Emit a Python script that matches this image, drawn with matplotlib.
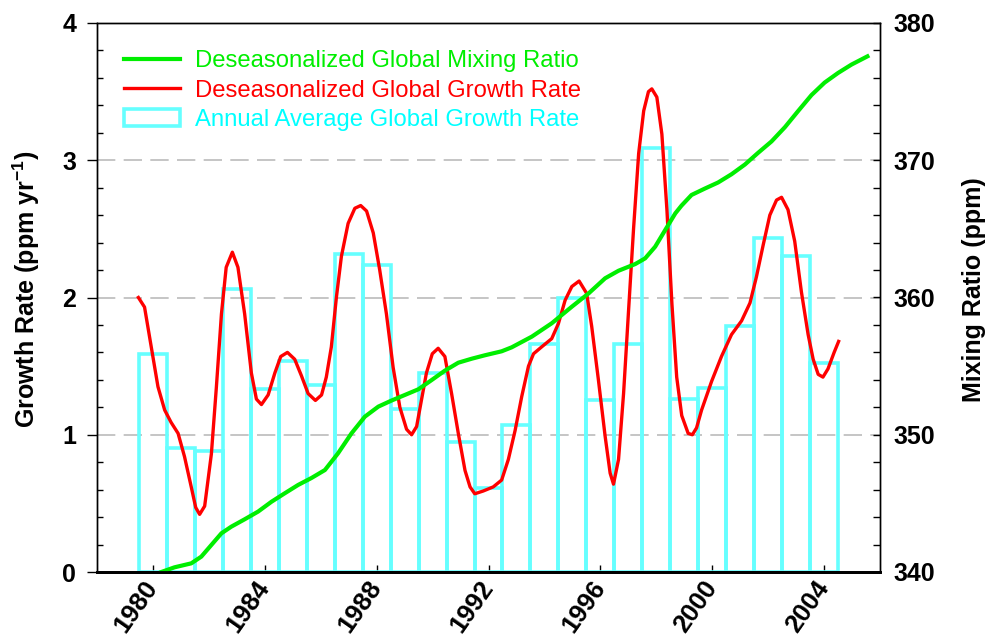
import numpy as np
import matplotlib.pyplot as plt
import matplotlib.transforms as mtransforms
from matplotlib.lines import Line2D
from matplotlib.patches import Patch
from matplotlib.ticker import MultipleLocator

# annual average growth rate (ppm/yr), one bar per year
years = [1980, 1981, 1982, 1983, 1984, 1985, 1986, 1987, 1988, 1989, 1990, 1991, 1992,
         1993, 1994, 1995, 1996, 1997, 1998, 1999, 2000, 2001, 2002, 2003, 2004]
annual_rate = [1.59, 0.90, 0.88, 2.06, 1.33, 1.54, 1.36, 2.32, 2.24, 1.19, 1.45, 0.95, 0.61,
               1.07, 1.66, 2.00, 1.25, 1.66, 3.09, 1.26, 1.34, 1.79, 2.43, 2.30, 1.52]

# deseasonalized growth rate curve
rate_t = [1979.48, 1979.70, 1979.94, 1980.18, 1980.42, 1980.65, 1980.90, 1981.13, 1981.37,
          1981.53, 1981.67, 1981.85, 1982.09, 1982.27, 1982.45, 1982.62, 1982.84, 1983.04,
          1983.28, 1983.52, 1983.70, 1983.88, 1984.12, 1984.36, 1984.57, 1984.81, 1985.07,
          1985.31, 1985.55, 1985.81, 1986.03, 1986.20, 1986.38, 1986.56, 1986.74, 1986.98,
          1987.22, 1987.43, 1987.64, 1987.88, 1988.11, 1988.35, 1988.59, 1988.83, 1989.07,
          1989.25, 1989.43, 1989.60, 1989.78, 1989.99, 1990.20, 1990.44, 1990.68, 1990.92,
          1991.16, 1991.34, 1991.51, 1991.81, 1992.17, 1992.47, 1992.71, 1992.95, 1993.19,
          1993.43, 1993.61, 1993.90, 1994.26, 1994.50, 1994.74, 1994.98, 1995.24, 1995.51,
          1995.69, 1995.93, 1996.17, 1996.35, 1996.47, 1996.65, 1996.83, 1997.01, 1997.19,
          1997.37, 1997.55, 1997.72, 1997.84, 1998.02, 1998.20, 1998.38, 1998.56, 1998.73,
          1998.91, 1999.14, 1999.29, 1999.44, 1999.62, 1999.98, 2000.33, 2000.69, 2001.05,
          2001.35, 2001.58, 2001.82, 2002.06, 2002.30, 2002.48, 2002.71, 2002.95, 2003.19,
          2003.43, 2003.61, 2003.79, 2003.96, 2004.14, 2004.36, 2004.52]
rate_v = [2.00, 1.93, 1.64, 1.35, 1.18, 1.09, 1.01, 0.84, 0.62,
          0.47, 0.42, 0.48, 0.86, 1.35, 1.88, 2.22, 2.33, 2.22,
          1.88, 1.45, 1.26, 1.22, 1.29, 1.45, 1.57, 1.60, 1.55,
          1.43, 1.30, 1.25, 1.29, 1.42, 1.64, 2.00, 2.30, 2.54,
          2.65, 2.67, 2.63, 2.47, 2.20, 1.88, 1.49, 1.20, 1.04,
          1.00, 1.06, 1.25, 1.45, 1.59, 1.63, 1.57, 1.30, 1.01,
          0.74, 0.62, 0.57, 0.59, 0.62, 0.67, 0.82, 1.03, 1.28,
          1.50, 1.59, 1.64, 1.70, 1.81, 1.98, 2.08, 2.12, 2.03,
          1.79, 1.40, 0.99, 0.72, 0.64, 0.82, 1.30, 1.91, 2.51,
          3.05, 3.36, 3.50, 3.52, 3.46, 3.19, 2.64, 1.95, 1.42,
          1.14, 1.01, 1.00, 1.05, 1.18, 1.39, 1.57, 1.73, 1.83,
          1.96, 2.15, 2.38, 2.60, 2.71, 2.73, 2.64, 2.41, 2.04,
          1.73, 1.55, 1.44, 1.42, 1.48, 1.60, 1.68]

# deseasonalized global mixing ratio (ppm)
mix_t = [1980.30, 1980.77, 1981.37, 1981.73, 1982.09, 1982.45, 1982.80, 1983.28, 1983.76,
         1984.24, 1984.71, 1985.19, 1985.67, 1986.15, 1986.62, 1987.10, 1987.58, 1988.06,
         1988.53, 1989.01, 1989.49, 1989.97, 1990.44, 1990.92, 1991.40, 1991.87, 1992.47,
         1992.83, 1993.55, 1994.26, 1994.98, 1995.58, 1996.17, 1996.65, 1997.25, 1997.60,
         1997.96, 1998.32, 1998.68, 1998.90, 1999.26, 1999.74, 2000.21, 2000.69, 2001.17,
         2001.64, 2002.12, 2002.60, 2003.07, 2003.55, 2004.02, 2004.50, 2004.98, 2005.55]
mix_v = [340.00, 340.34, 340.63, 341.12, 341.97, 342.82, 343.30, 343.84, 344.40,
         345.12, 345.73, 346.34, 346.85, 347.43, 348.65, 350.10, 351.32, 352.05,
         352.49, 352.90, 353.31, 353.99, 354.67, 355.25, 355.54, 355.79, 356.08,
         356.37, 357.15, 358.12, 359.33, 360.30, 361.40, 361.95, 362.44, 362.85,
         363.70, 364.92, 366.13, 366.69, 367.47, 367.94, 368.38, 368.98, 369.69,
         370.54, 371.37, 372.41, 373.58, 374.75, 375.66, 376.36, 376.97, 377.57]

tick_years = [1980, 1984, 1988, 1992, 1996, 2000, 2004]
labels = ['Deseasonalized Global Mixing Ratio',
          'Deseasonalized Global Growth Rate',
          'Annual Average Global Growth Rate']

green = '#00ee00'
red = '#ff0000'
cyan_bar = '#66ffff'
cyan_txt = '#00ffff'

plt.rcParams['font.family'] = ['Liberation Sans', 'DejaVu Sans']
plt.rcParams['font.weight'] = 'bold'
plt.rcParams['mathtext.fontset'] = 'custom'
plt.rcParams['mathtext.rm'] = 'Liberation Sans'
plt.rcParams['mathtext.bf'] = 'Liberation Sans:bold'

fig = plt.figure(figsize=(9.86, 6.4), dpi=100)
ax = fig.add_axes([97 / 986, 68 / 640, 783 / 986, 549 / 640])
ax2 = ax.twinx()

ax.bar(years, annual_rate, width=1.0, fill=False, edgecolor=cyan_bar, linewidth=2.6, zorder=2)
ax.plot(rate_t, rate_v, color=red, lw=2.4, zorder=3)
ax2.plot(mix_t, mix_v, color=green, lw=3.0)

ax.set_xlim(1978, 2006)
ax.set_ylim(0, 4)
ax2.set_ylim(340, 380)

ax.set_axisbelow(True)
ax.yaxis.grid(True, color='#bbbbbb', lw=1.2, dashes=(11, 5))

ax.set_xticks(tick_years, labels=[str(y) for y in tick_years], rotation=55,
              ha='right', va='center', rotation_mode='anchor')
off = mtransforms.ScaledTranslation(10 / 100, -7 / 100, fig.dpi_scale_trans)
for lbl in ax.get_xticklabels():
    lbl.set_transform(lbl.get_transform() + off)

ax.yaxis.set_major_locator(MultipleLocator(1))
ax.yaxis.set_minor_locator(MultipleLocator(0.2))
ax2.yaxis.set_major_locator(MultipleLocator(10))
ax2.yaxis.set_minor_locator(MultipleLocator(2))

ax.tick_params(axis='x', which='major', direction='in', length=5, width=1, labelsize=18.5, pad=8)
ax.tick_params(axis='y', which='major', direction='out', length=7, width=1, labelsize=18, pad=8)
ax.tick_params(axis='y', which='minor', direction='in', length=4, width=1)
ax2.tick_params(axis='y', which='major', direction='in', length=5, width=1, labelsize=18, pad=10)
ax2.tick_params(axis='y', which='minor', direction='in', length=5, width=1)

for a in (ax, ax2):
    for s in a.spines.values():
        s.set_linewidth(1.0)
    a.spines['bottom'].set_linewidth(2.0)

ax.set_ylabel(r'Growth Rate (ppm yr$^{\mathbf{-1}}$)', fontsize=18, fontweight='bold')
ax.yaxis.set_label_coords(-0.07, 0.514)
ax2.set_ylabel('Mixing Ratio (ppm)', fontsize=18, fontweight='bold')
ax2.yaxis.set_label_coords(1.105, 0.515)

handles = [Line2D([], [], color=green, lw=3.0),
           Line2D([], [], color=red, lw=2.4),
           Patch(fill=False, edgecolor=cyan_bar, lw=2.6)]
leg = ax2.legend(handles, labels, loc='upper left', bbox_to_anchor=(0.035, 0.95),
                 frameon=False, prop={'size': 17.2, 'weight': 'normal'},
                 handlelength=2.34, handletextpad=0.6, labelspacing=0.3,
                 borderaxespad=0, borderpad=0)
for t, c in zip(leg.get_texts(), [green, red, cyan_txt]):
    t.set_color(c)

fig.savefig('out.png', dpi=100)
